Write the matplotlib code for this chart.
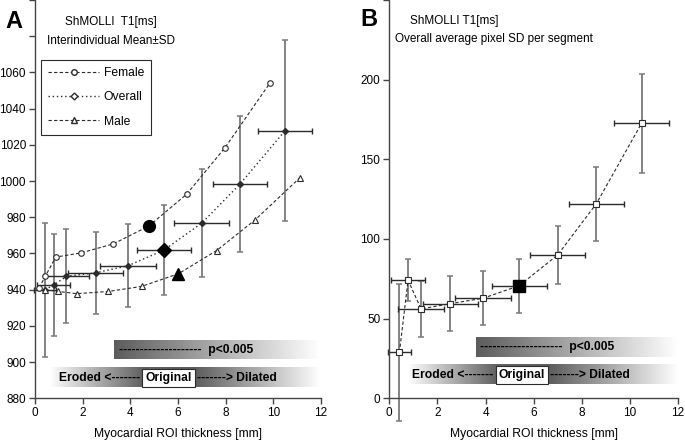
import numpy as np
import matplotlib.pyplot as plt
from matplotlib.lines import Line2D

plt.rcParams['font.family'] = ['Liberation Sans', 'DejaVu Sans']

# ── Data ──────────────────────────────────────────────────────────────────────
thickness    = [0.42, 0.78, 1.32, 2.54, 3.90, 5.40, 7.00, 8.60, 10.49]
thickness_sd = [0.47, 0.70, 0.95, 1.14, 1.16, 1.14, 1.15, 1.15, 1.13]

overall_t1 = [940.0, 942.5, 947.4, 949.3, 953.2, 961.8, 976.8, 998.3, 1027.8]
overall_sd = [37.0, 28.0, 26.0, 22.5, 23.0, 25.0, 30.0, 37.6, 50.0]

female_x  = [0.17, 0.44, 0.87, 1.93, 3.29, 4.78, 6.36, 7.97, 9.86]
female_t1 = [941.0, 947.6, 958.0, 960.3, 965.3, 975.2, 992.7, 1018.4, 1054.2]

male_x  = [0.42, 0.98, 1.75, 3.07, 4.47, 6.02, 7.62, 9.23, 11.12]
male_t1 = [940.0, 939.0, 937.8, 939.0, 941.8, 948.8, 961.6, 978.5, 1001.9]

pixel_sd    = [28.8, 74.1, 56.1, 59.4, 62.8, 70.7, 90.0, 122.0, 172.7]
pixel_sd_sd = [43.0, 13.2, 17.5, 17.2, 17.0, 17.0, 18.2, 23.2, 31.0]

ORIG = 5   # index of the original (un-eroded, un-dilated) ROI

DARK = '#2b2b2b'
GREY = '#7a7a7a'
DASH = (0, (3, 2))
DOT  = (0, (1, 2))


def shade(ax, x0, x1, y0, y1, stops, levels):
    """Horizontal grey gradient band."""
    pos = np.linspace(0, 1, 256)
    g = np.interp(pos, stops, levels)
    ax.imshow(np.tile(g, (2, 1)), cmap='gray', vmin=0, vmax=1,
              extent=(x0, x1, y0, y1), aspect='auto',
              interpolation='bilinear', zorder=0)


def annotate_bands(ax, p_band, er_band, p_x0, er_x0, box):
    shade(ax, p_x0, 12, p_band[0], p_band[1], [0, 1], [0.36, 1.0])
    bx0, bx1 = box
    s0 = (bx0 - er_x0) / (12 - er_x0)
    s1 = (bx1 - er_x0) / (12 - er_x0)
    shade(ax, er_x0, 12, er_band[0], er_band[1],
          [0, s0, s1, 1], [1.0, 0.38, 0.36, 1.0])
    pm = sum(p_band) / 2
    em = sum(er_band) / 2
    ax.text(p_x0 + 0.2, pm, '--------------------  p<0.005', fontsize=8.7,
            fontweight='bold', va='center', ha='left', zorder=3)
    ax.text(bx0 - 0.1, em, 'Eroded <-------', fontsize=8.7,
            fontweight='bold', va='center', ha='right', zorder=3)
    ax.text(bx1 + 0.1, em, '-------> Dilated', fontsize=8.7,
            fontweight='bold', va='center', ha='left', zorder=3)
    ax.text((bx0 + bx1) / 2, em, 'Original', fontsize=8.7, fontweight='bold',
            va='center', ha='center', zorder=3,
            bbox=dict(boxstyle='square,pad=0.25', fc='white', ec=DARK, lw=0.8))


def errbars(ax, x, y, xerr, yerr):
    e1 = ax.errorbar(x, y, yerr=yerr, fmt='none', ecolor=GREY, elinewidth=1.3,
                     capsize=2.5, capthick=1.1, zorder=2)
    e2 = ax.errorbar(x, y, xerr=xerr, fmt='none', ecolor=DARK, elinewidth=1.0,
                     capsize=2.5, capthick=1.0, zorder=2)
    for eb in (e1, e2):
        for a in list(eb[1]) + list(eb[2]):
            a.set_clip_on(False)


def style_axes(ax):
    for s in ('top', 'right'):
        ax.spines[s].set_visible(False)
    for s in ('left', 'bottom'):
        ax.spines[s].set_color('#444444')
        ax.spines[s].set_linewidth(1.0)
    ax.tick_params(direction='out', length=4, width=1.0, color='#444444',
                   labelsize=8.5, pad=2.5)
    ax.set_xlim(0, 12)
    ax.set_xticks(range(0, 13, 2))
    ax.set_xlabel('Myocardial ROI thickness [mm]', fontsize=8.7, labelpad=6)


fig = plt.figure(figsize=(6.85, 4.44), dpi=100)
axA = fig.add_axes([35 / 685, 45.7 / 444, 286 / 685, 398.3 / 444])
axB = fig.add_axes([389.3 / 685, 45.7 / 444, 288.7 / 685, 398.3 / 444])

# ── Panel A ───────────────────────────────────────────────────────────────────
style_axes(axA)
axA.set_ylim(880, 1100)
axA.set_yticks(range(880, 1101, 20))
axA.set_yticklabels([str(v) if v <= 1060 else '' for v in range(880, 1101, 20)])

annotate_bands(axA, (901.5, 911.7), (886.0, 896.5), 3.33, 0.6, (4.52, 6.69))
errbars(axA, thickness, overall_t1, thickness_sd, overall_sd)

axA.plot(female_x, female_t1, ls=DASH, color=DARK, lw=0.8, marker='o', ms=4,
         mfc='white', mec=DARK, mew=0.8, zorder=3)
axA.plot(thickness, overall_t1, ls=DOT, color=DARK, lw=1.0, marker='D', ms=3,
         mfc=DARK, mec=DARK, zorder=3)
axA.plot(male_x, male_t1, ls=DASH, color=DARK, lw=0.8, marker='^', ms=4.5,
         mfc='white', mec=DARK, mew=0.8, zorder=3)
axA.plot(female_x[ORIG], female_t1[ORIG], 'o', ms=8.5, color='black', zorder=4)
axA.plot(thickness[ORIG], overall_t1[ORIG], 'D', ms=7.5, color='black', zorder=4)
axA.plot(male_x[ORIG], male_t1[ORIG], '^', ms=9, color='black', zorder=4)

handles = [
    Line2D([], [], ls=DASH, color=DARK, lw=0.8, marker='o', ms=4, mfc='white', mec=DARK),
    Line2D([], [], ls=DOT, color=DARK, lw=1.0, marker='D', ms=3.5, mfc='white', mec=DARK),
    Line2D([], [], ls=DASH, color=DARK, lw=0.8, marker='^', ms=4.5, mfc='white', mec=DARK),
]
leg = axA.legend(handles, ['Female', 'Overall', 'Male'], loc='upper left',
                 bbox_to_anchor=(0.021, 0.849), fontsize=8.7, frameon=True,
                 fancybox=False, edgecolor=DARK, framealpha=1, borderpad=0.6,
                 labelspacing=1.0, handlelength=4.2, handletextpad=0.4,
                 borderaxespad=0)
leg.get_frame().set_linewidth(0.8)

# ── Panel B ───────────────────────────────────────────────────────────────────
style_axes(axB)
axB.set_ylim(0, 250)
axB.set_yticks(range(0, 251, 50))
axB.set_yticklabels([str(v) if v <= 200 else '' for v in range(0, 251, 50)])

annotate_bands(axB, (26.1, 38.3), (8.8, 20.9), 3.59, 0.72, (4.43, 6.60))
errbars(axB, thickness, pixel_sd, thickness_sd, pixel_sd_sd)
axB.plot(thickness, pixel_sd, ls=DASH, color=DARK, lw=0.8, marker='s', ms=4,
         mfc='white', mec=DARK, mew=0.8, zorder=3)
axB.plot(thickness[ORIG], pixel_sd[ORIG], 's', ms=8, color='black', zorder=4)

# ── Titles / panel letters ───────────────────────────────────────────────────
fig.text(5 / 685, 1 - 22 / 444, 'A', fontsize=17, fontweight='bold', va='center')
fig.text(65 / 685, 1 - 22 / 444, 'ShMOLLI  T1[ms]', fontsize=8.5, va='center')
fig.text(47 / 685, 1 - 41 / 444, 'Interindividual Mean\u00b1SD', fontsize=8.5, va='center')
fig.text(360 / 685, 1 - 20 / 444, 'B', fontsize=17, fontweight='bold', va='center')
fig.text(410 / 685, 1 - 21 / 444, 'ShMOLLI T1[ms]', fontsize=8.5, va='center')
fig.text(395 / 685, 1 - 39 / 444, 'Overall average pixel SD per segment', fontsize=8.5, va='center')

fig.savefig('out.png', dpi=100)
